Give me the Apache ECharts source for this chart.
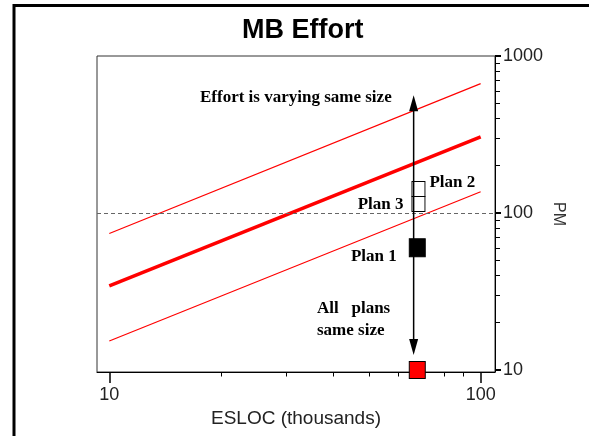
<!DOCTYPE html>
<html>
<head>
<meta charset="utf-8">
<script src="https://cdn.jsdelivr.net/npm/echarts@6/dist/echarts.min.js"></script>
<style>
  html, body { margin: 0; padding: 0; background: #fff; }
  #main { width: 589px; height: 436px; }
</style>
</head>
<body>
<div id="main"></div>
<script>
// values (log-log chart)
var esloc = [10, 100];
var upperPM = [74, 667];
var nominalPM = [34.3, 305];
var lowerPM = [15.3, 136.6];
var refLevel = 100;

var arrowX = 66;
var arrowPM = [500, 14];

var planX = 67.5;
var planNames = ['Plan 1', 'Plan 2', 'Plan 3'];
var planPM = [60, 142, 114];
var sameSizePM = 10;

var xMajor = [10, 100];
var xMinor = [20, 30, 40, 50, 60, 70, 80, 90];
var yMajor = [10, 100, 1000];
var yMinor = [20, 30, 40, 50, 60, 70, 80, 90, 200, 300, 400, 500, 600, 700, 800, 900];

var sans = 'Liberation Sans, Arial, sans-serif';
var serif = 'Liberation Serif, Times New Roman, serif';

var chart = echarts.init(document.getElementById('main'), null, { renderer: 'canvas' });

function pairs(xs, ys) {
  return xs.map(function (x, i) { return [x, ys[i]]; });
}
function plain(v) { return String(Math.round(v)); }

var noteStyle = { fontFamily: serif, fontWeight: 'bold', fontSize: 17, fill: '#000' };

var option = {
  animation: false,
  backgroundColor: '#fff',
  title: {
    text: 'MB Effort',
    left: 242,
    top: 17,
    padding: 0,
    textStyle: { fontFamily: sans, fontWeight: 'bold', fontSize: 27, color: '#000' }
  },
  grid: {
    left: 97, right: 94, top: 56, bottom: 64,
    show: true, borderColor: '#333', borderWidth: 1
  },
  xAxis: [
    {
      type: 'log', min: 9.266, max: 109.3,
      name: 'ESLOC (thousands)', nameLocation: 'middle', nameGap: 31,
      nameTextStyle: { fontFamily: sans, fontSize: 19, color: '#222' },
      axisLine: { lineStyle: { color: '#000', width: 1 } },
      axisTick: { customValues: xMajor, length: 11, lineStyle: { color: '#000', width: 1.5 } },
      axisLabel: { customValues: xMajor, formatter: plain, fontFamily: sans, fontSize: 18, color: '#222', margin: 14 },
      splitLine: { show: false }, minorTick: { show: false }
    },
    {
      type: 'log', min: 9.266, max: 109.3, position: 'bottom',
      axisLine: { show: false },
      axisTick: { customValues: xMinor, length: 4.5, lineStyle: { color: '#000', width: 1 } },
      axisLabel: { show: false },
      splitLine: { show: false }
    }
  ],
  yAxis: [
    {
      type: 'log', min: 9.7, max: 1000, position: 'right',
      name: 'PM', nameLocation: 'middle', nameGap: 55, nameRotate: -90, nameMoveOverlap: false,
      nameTextStyle: { fontFamily: sans, fontSize: 16, color: '#333' },
      axisLine: { show: true, lineStyle: { color: '#000', width: 1 } },
      axisTick: { customValues: yMajor, length: 6, lineStyle: { color: '#000', width: 2 } },
      axisLabel: { customValues: yMajor, formatter: plain, fontFamily: sans, fontSize: 18, color: '#222', margin: 8 },
      splitLine: { show: false }
    },
    {
      type: 'log', min: 9.7, max: 1000, position: 'right',
      axisLine: { show: false },
      axisTick: { customValues: yMinor, length: 5, lineStyle: { color: '#000', width: 1 } },
      axisLabel: { show: false },
      splitLine: { show: false }
    }
  ],
  graphic: [
    {
      type: 'rect', z: 100, silent: true,
      shape: { x: 14, y: 5.5, width: 800, height: 800 },
      style: { fill: 'none', stroke: '#000', lineWidth: 3 }
    },
    { type: 'text', x: 200, y: 89, style: Object.assign({ text: 'Effort is varying same size' }, noteStyle) },
    { type: 'text', x: 317, y: 300, style: Object.assign({ text: 'All   plans' }, noteStyle) },
    { type: 'text', x: 317, y: 322, style: Object.assign({ text: 'same size' }, noteStyle) }
  ],
  series: [
    {
      type: 'line', data: pairs(esloc, upperPM), symbol: 'none',
      lineStyle: { color: '#ff0000', width: 1.2 }
    },
    {
      type: 'line', data: pairs(esloc, nominalPM), symbol: 'none',
      lineStyle: { color: '#ff0000', width: 3.5 },
      markLine: {
        silent: true, symbol: 'none', label: { show: false },
        lineStyle: { color: '#666', type: [4, 3], width: 1 },
        data: [{ yAxis: refLevel }]
      }
    },
    {
      type: 'line', data: pairs(esloc, lowerPM), symbol: 'none',
      lineStyle: { color: '#ff0000', width: 1.2 }
    },
    {
      type: 'scatter', symbol: 'rect', z: 5,
      data: [
        {
          value: [planX, planPM[0]], symbolSize: [16, 18],
          itemStyle: { color: '#000', borderColor: '#000', borderWidth: 1 },
          label: { show: true, formatter: planNames[0], position: 'left', distance: 12, offset: [0, 9] }
        },
        {
          value: [planX + 0.5, planPM[1]], symbolSize: [13, 15],
          itemStyle: { color: 'rgba(0,0,0,0)', borderColor: '#000', borderWidth: 1 },
          label: { show: true, formatter: planNames[1], position: 'right', distance: 4, offset: [0, -6] }
        },
        {
          value: [planX + 0.5, planPM[2]], symbolSize: [13, 15],
          itemStyle: { color: 'rgba(0,0,0,0)', borderColor: '#000', borderWidth: 1 },
          label: { show: true, formatter: planNames[2], position: 'left', distance: 8, offset: [0, 1] }
        },
        {
          value: [planX, sameSizePM], symbolSize: [16, 17],
          itemStyle: { color: '#ff0000', borderColor: '#000', borderWidth: 1 }
        }
      ],
      itemStyle: { opacity: 1 },
      label: { fontFamily: serif, fontWeight: 'bold', fontSize: 17, color: '#000' }
    },
    {
      type: 'line',
      data: [
        { value: [arrowX, arrowPM[0]], symbolRotate: 0 },
        { value: [arrowX, arrowPM[1]], symbolRotate: 180 }
      ],
      symbol: 'triangle', symbolSize: [9, 16], showSymbol: true,
      itemStyle: { color: '#000', opacity: 1 },
      lineStyle: { color: '#000', width: 1.5 },
      z: 6
    }
  ]
};

chart.setOption(option);
</script>
</body>
</html>
